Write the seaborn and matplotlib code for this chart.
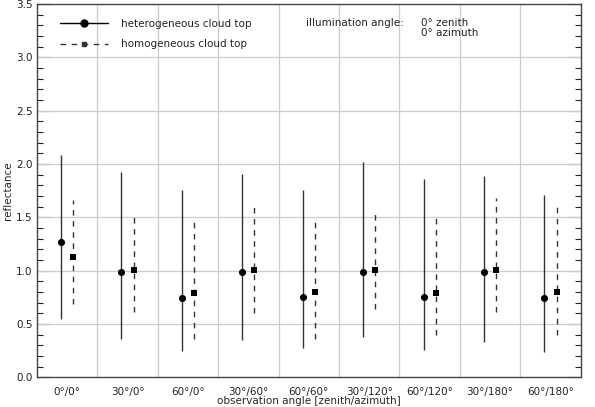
import numpy as np
import pandas as pd
import matplotlib
matplotlib.use("Agg")
import matplotlib.pyplot as plt
import seaborn as sns
from matplotlib.lines import Line2D
from matplotlib.ticker import MultipleLocator, FormatStrFormatter


# observation angles (zenith/azimuth)
angles = ["0°/0°", "30°/0°", "60°/0°", "30°/60°", "60°/60°",
          "30°/120°", "60°/120°", "30°/180°", "60°/180°"]

# heterogeneous cloud top: mean, lower, upper
het_mean = [1.265, 0.99, 0.74, 0.99, 0.75, 0.99, 0.755, 0.99, 0.745]
het_low = [0.545, 0.36, 0.25, 0.35, 0.27, 0.38, 0.26, 0.33, 0.24]
het_high = [2.08, 1.925, 1.76, 1.91, 1.76, 2.02, 1.86, 1.89, 1.71]

# homogeneous cloud top: mean, lower, upper
hom_mean = [1.13, 1.01, 0.79, 1.01, 0.80, 1.01, 0.79, 1.01, 0.80]
hom_low = [0.69, 0.61, 0.36, 0.60, 0.36, 0.64, 0.40, 0.61, 0.40]
hom_high = [1.66, 1.51, 1.47, 1.60, 1.48, 1.53, 1.49, 1.68, 1.60]

sns.set_theme(style="white")
plt.rcParams['font.family'] = ['DejaVu Sans']
plt.rcParams['text.color'] = '#222222'

fig = plt.figure(figsize=(5.95, 4.07), dpi=100)
ax = fig.add_axes([0.062, 0.073, 0.914, 0.917])

pos = np.arange(len(angles))
het = pd.DataFrame({"x": pos - 0.1, "y": het_mean})
hom = pd.DataFrame({"x": pos + 0.1, "y": hom_mean})

# error ranges
ax.vlines(het["x"], het_low, het_high, color="#333333", lw=1.0, zorder=3)
ax.vlines(hom["x"], hom_low, hom_high, color="#333333", lw=1.0,
          linestyles=(0, (4, 4)), zorder=3)

sns.scatterplot(data=het, x="x", y="y", marker="o", color="black",
                s=26, linewidth=0, ax=ax, zorder=4)
sns.scatterplot(data=hom, x="x", y="y", marker="s", color="black",
                s=13, linewidth=0, ax=ax, zorder=4)

ax.set_xlim(-0.5, len(angles) - 0.5)
ax.set_ylim(0, 3.5)

# grid
ax.yaxis.set_major_locator(MultipleLocator(0.5))
ax.yaxis.set_minor_locator(MultipleLocator(0.1))
ax.yaxis.set_major_formatter(FormatStrFormatter('%.1f'))
for yv in np.arange(0.5, 3.5, 0.5):
    ax.axhline(yv, color="#cccccc", lw=0.9, zorder=1)
for xv in pos[:-1] + 0.5:
    ax.axvline(xv, color="#cccccc", lw=0.9, zorder=1)

ax.set_xticks(pos)
ax.set_xticklabels(angles)
ax.tick_params(axis="x", length=0, pad=7, labelsize=7.5, colors="#222222")
ax.tick_params(axis="y", which="both", direction="in", left=True, right=True,
               labelsize=7.5, colors="#222222", pad=3)
ax.tick_params(axis="y", which="major", length=9, width=0.8)
ax.tick_params(axis="y", which="minor", length=4.5, width=0.8)
for sp in ax.spines.values():
    sp.set_color("#444444")
    sp.set_linewidth(1.0)

ax.set_xlabel("observation angle [zenith/azimuth]", fontsize=7.5, labelpad=-1)
ax.set_ylabel("reflectance", fontsize=7.5, labelpad=2)

handles = [
    Line2D([], [], color="black", lw=1.0, marker="o", markersize=5),
    Line2D([], [], color="#333333", lw=1.0, ls=(0, (4, 4)), marker="s",
           markersize=3.5),
]
ax.legend(handles, ["heterogeneous cloud top", "homogeneous cloud top"],
          loc="upper left", bbox_to_anchor=(0.025, 0.985), frameon=False,
          fontsize=7.5, handlelength=4.6, handletextpad=1.3, labelspacing=1.0)

ax.text(0.495, 0.949, "illumination angle:", transform=ax.transAxes,
        fontsize=7.5, va="center")
ax.text(0.706, 0.949, "0° zenith", transform=ax.transAxes,
        fontsize=7.5, va="center")
ax.text(0.706, 0.922, "0° azimuth", transform=ax.transAxes,
        fontsize=7.5, va="center")

fig.savefig("out.png", dpi=100)
